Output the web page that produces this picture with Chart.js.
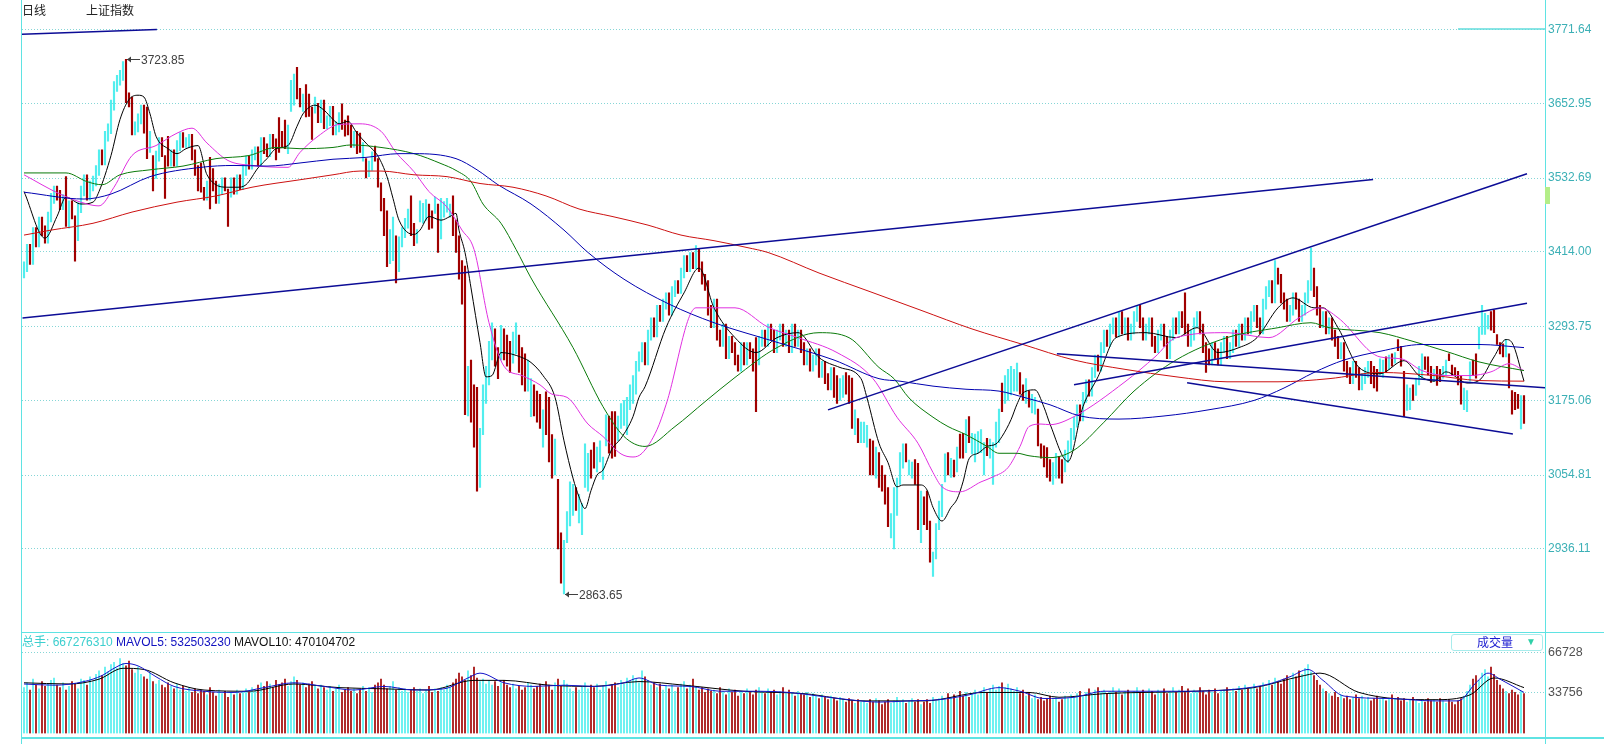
<!DOCTYPE html>
<html>
<head>
<meta charset="utf-8">
<script src="https://cdn.jsdelivr.net/npm/chart.js@4.4.0/dist/chart.umd.min.js"></script>
<style>
  body { margin: 0; background: #fff; width: 1604px; height: 744px; overflow: hidden; position: relative; font-family: "Liberation Sans", Arial, sans-serif; }
  canvas { position: absolute; left: 0; }
  #price { top: 0; }
  #vol { top: 632px; }
  .t { position: absolute; font-size: 12px; line-height: 14px; white-space: nowrap; }
  .cjk { font-family: "Noto Sans CJK SC", sans-serif; }
  .ln { position: absolute; background: #5fe3e3; }
</style>
</head>
<body>
<canvas id="price" width="1604" height="632"></canvas>
<canvas id="vol" width="1604" height="112"></canvas>

<div class="ln" style="left:21px;top:0;width:1px;height:744px"></div>
<div class="ln" style="left:1545px;top:0;width:1px;height:744px"></div>
<div class="ln" style="left:21px;top:632px;width:1583px;height:1px"></div>
<div class="ln" style="left:21px;top:737px;width:1583px;height:2px"></div>
<div style="position:absolute;left:1545px;top:187px;width:5px;height:17px;background:#b4ee88"></div>

<div class="t cjk" style="left:22px;top:3px;color:#222">日线</div>
<div class="t cjk" style="left:86px;top:3px;color:#222">上证指数</div>
<div class="t" style="left:22px;top:634px"><span class="cjk" style="color:#3ccfcf">总手</span><span style="color:#3ccfcf">: 667276310</span> <span style="color:#1010c0">MAVOL5: 532503230</span> <span style="color:#111">MAVOL10: 470104702</span></div>
<div style="position:absolute;left:1451px;top:634px;width:90px;height:15px;border:1px solid #a8ecec;border-radius:3px"></div>
<div class="t cjk" style="left:1477px;top:635px;color:#1a1ad0">成交量</div>
<div class="t" style="left:1526px;top:635px;color:#2fd0a8;font-size:10px">▼</div>

<script>
// candle highs / lows, one per trading day
const highs = [
3398,3426,3426,3453,3453,3470,3470,3456,3478,3508,
3520,3520,3513,3506,3535,3496,3496,3472,3493,3520,
3538,3538,3528,3536,3553,3578,3578,3608,3620,3658,
3688,3698,3706,3720,3723.85,3670,3663,3623,3636,3650,
3650,3647,3608,3569,3576,3598,3598,3569,3600,3578,
3578,3593,3606,3606,3598,3603,3603,3578,3553,3557,
3518,3528,3566,3548,3528,3523,3533,3533,3515,3533,
3533,3538,3538,3553,3568,3568,3578,3583,3583,3598,
3598,3588,3603,3603,3596,3630,3608,3626,3618,3690,
3700,3711,3677,3668,3683,3668,3647,3663,3653,3658,
3658,3633,3648,3648,3623,3638,3652,3626,3633,3618,
3608,3608,3605,3590,3564,3560,3575,3584,3564,3525,
3500,3480,3450,3470,3440,3438,3453,3468,3483,3504,
3460,3450,3496,3492,3498,3491,3480,3502,3491,3500,
3495,3500,3491,3504,3465,3440,3400,3391,3230,3240,
3200,3196,3130,3200,3230,3270,3300,3290,3260,3296,
3290,3280,3270,3285,3300,3280,3260,3250,3240,3210,
3200,3190,3185,3160,3189,3180,3120,3113,3048,2962,
2950,2996,3044,3040,3035,3024,3009,3105,3090,3095,
3107,3100,3110,3084,3152,3150,3157,3157,3150,3170,
3175,3180,3200,3215,3238,3253,3268,3268,3288,3308,
3308,3328,3328,3338,3348,3348,3358,3368,3368,3388,
3408,3408,3413,3413,3424,3418,3398,3378,3368,3328,
3338,3338,3288,3298,3298,3278,3278,3268,3248,3268,
3268,3268,3268,3258,3276,3278,3288,3288,3298,3298,
3288,3288,3298,3298,3288,3288,3298,3298,3288,3288,
3268,3258,3258,3248,3258,3258,3238,3238,3218,3228,
3228,3215,3210,3215,3220,3215,3211,3160,3146,3140,
3140,3135,3113,3110,3100,3091,3070,3055,3035,2993,
3035,3050,3091,3105,3105,3079,3076,3080,3074,3029,
3020,3029,2981,2931,2977,3013,3040,3089,3091,3082,
3079,3100,3121,3122,3144,3149,3122,3121,3125,3128,
3107,3114,3113,3107,3140,3161,3203,3215,3225,3230,
3225,3235,3220,3200,3210,3190,3185,3180,3161,3105,
3102,3099,3080,3075,3090,3085,3080,3095,3110,3130,
3148,3168,3168,3188,3208,3208,3228,3248,3248,3268,
3288,3288,3298,3308,3308,3318,3318,3308,3308,3298,
3318,3328,3328,3308,3298,3308,3308,3278,3288,3298,
3298,3278,3288,3308,3308,3318,3318,3348,3298,3288,
3308,3318,3318,3298,3268,3258,3268,3268,3258,3268,
3278,3278,3268,3288,3288,3298,3298,3308,3308,3318,
3328,3328,3308,3338,3358,3368,3368,3400,3388,3378,
3348,3338,3328,3348,3348,3338,3328,3348,3368,3420,
3388,3358,3328,3318,3318,3308,3308,3288,3278,3268,
3268,3238,3228,3238,3238,3228,3218,3228,3238,3238,
3230,3225,3242,3240,3245,3248,3250,3252,3273,3262,
3222,3200,3195,3200,3211,3230,3250,3245,3245,3230,
3225,3230,3225,3230,3240,3250,3232,3228,3222,3214,
3195,3191,3237,3240,3250,3293,3328,3315,3312,3318,
3320,3281,3268,3266,3273,3250,3191,3188,3185,3183,
3183];
const lows = [
3372,3382,3394,3394,3422,3422,3440,3428,3428,3462,
3492,3497,3482,3482,3455,3452,3467,3399,3432,3477,
3504,3497,3497,3512,3520,3537,3554,3554,3592,3604,
3642,3672,3682,3690,3654,3647,3602,3602,3607,3620,
3605,3564,3574,3512,3532,3560,3567,3500,3552,3552,
3552,3552,3577,3582,3582,3582,3562,3537,3512,3510,
3497,3497,3483,3512,3492,3492,3507,3512,3455,3502,
3507,3507,3514,3514,3537,3547,3547,3562,3552,3552,
3572,3567,3567,3580,3562,3574,3582,3580,3572,3640,
3650,3660,3647,3640,3631,3632,3595,3637,3622,3622,
3612,3612,3617,3602,3602,3607,3611,3600,3602,3582,
3582,3572,3574,3560,3533,3535,3545,3560,3518,3480,
3440,3390,3395,3400,3364,3382,3422,3437,3452,3440,
3424,3428,3462,3460,3465,3450,3452,3476,3413,3435,
3470,3478,3470,3440,3413,3370,3330,3152,3150,3140,
3100,3029,3035,3120,3170,3200,3240,3230,3210,3240,
3240,3230,3220,3235,3250,3220,3200,3190,3190,3149,
3150,3140,3130,3100,3120,3076,3050,3055,2936,2881,
2863.65,2946,2973,2990,2998,2978,2959,3035,3029,3050,
3066,3060,3076,3048,3102,3090,3082,3085,3110,3130,
3135,3120,3160,3170,3185,3222,3237,3232,3232,3272,
3277,3277,3302,3302,3322,3312,3312,3342,3347,3347,
3372,3382,3382,3387,3387,3382,3362,3352,3312,3292,
3292,3272,3262,3262,3242,3242,3252,3232,3222,3222,
3232,3232,3242,3222,3157,3232,3262,3262,3262,3272,
3252,3252,3272,3262,3262,3252,3252,3262,3262,3252,
3232,3232,3222,3222,3232,3212,3212,3202,3192,3192,
3180,3170,3175,3180,3185,3170,3130,3120,3107,3107,
3107,3100,3055,3055,3050,3035,3029,3008,2972,2954,
2936,2990,3040,3066,3076,3055,3050,3040,2967,2946,
2975,2967,2915,2892,2920,2967,2988,3044,3055,3051,
3052,3060,3082,3082,3091,3107,3089,3076,3090,3091,
3055,3086,3082,3040,3100,3107,3157,3170,3175,3184,
3190,3190,3185,3175,3170,3164,3155,3153,3102,3082,
3068,3051,3045,3040,3050,3050,3042,3060,3075,3095,
3112,3132,3142,3142,3172,3182,3182,3212,3222,3222,
3252,3262,3262,3282,3277,3277,3282,3282,3272,3272,
3282,3302,3292,3272,3272,3282,3262,3252,3252,3272,
3262,3242,3242,3272,3282,3282,3292,3282,3262,3262,
3272,3292,3282,3252,3220,3232,3232,3242,3232,3232,
3252,3242,3242,3252,3262,3262,3272,3272,3282,3282,
3302,3292,3282,3282,3322,3342,3332,3332,3362,3332,
3322,3302,3302,3312,3322,3302,3302,3312,3332,3352,
3342,3312,3292,3292,3282,3282,3272,3262,3242,3242,
3222,3212,3202,3202,3212,3192,3192,3202,3212,3202,
3195,3190,3216,3212,3220,3225,3230,3235,3255,3230,
3149,3159,3160,3175,3183,3200,3211,3225,3216,3204,
3205,3199,3205,3211,3216,3239,3215,3215,3200,3169,
3160,3157,3206,3215,3211,3258,3281,3281,3290,3288,
3284,3265,3250,3245,3245,3195,3153,3160,3162,3129,
3138];
// 1 = up day (cyan), 0 = down day (dark red)
const ups = [
1,1,0,1,0,1,0,0,1,1, 1,0,0,1,0,1,0,0,1,1, 1,0,1,1,1,1,0,1,1,1, 1,1,1,1,0,0,0,1,1,1,
0,0,1,0,1,1,0,0,0,1, 0,1,1,0,1,1,0,0,0,0, 0,1,0,0,0,1,1,0,0,1, 0,1,0,1,1,0,1,1,0,1,
0,0,1,0,0,0,0,0,1,1, 1,0,0,1,0,0,0,1,0,1, 0,1,1,0,1,1,0,0,0,0, 1,0,0,1,0,1,1,0,0,0,
0,0,1,1,0,1,1,1,1,0, 0,1,1,1,1,0,0,1,0,1, 1,1,1,0,0,0,0,0,1,0, 0,0,1,1,1,1,1,0,0,1,
0,0,0,1,1,0,0,0,1,1, 0,0,0,1,0,0,0,1,0,0, 1,1,1,1,0,1,1,1,1,0, 0,1,1,1,1,0,0,0,1,1,
1,1,1,1,1,1,1,0,1,1, 0,1,0,1,1,0,1,1,0,1, 1,0,1,0,1,0,0,0,0,0, 1,0,0,1,0,1,0,0,0,1,
0,1,0,0,0,1,1,0,1,0, 0,1,1,0,1,0,1,0,1,0, 0,1,0,1,1,0,1,0,0,1, 0,0,1,1,0,0,0,1,0,1,
1,1,0,0,1,0,0,0,0,1, 1,1,1,1,0,1,1,0,0,1, 0,0,0,1,1,1,1,1,0,1, 0,1,0,0,1,0,1,1,1,1,
1,0,1,1,1,1,0,1,1,1, 1,1,0,0,1,0,1,1,0,0, 0,0,0,1,1,0,0,1,1,1, 1,1,0,1,1,0,1,1,0,1,
1,0,1,1,0,1,0,1,0,1, 1,1,0,0,1,1,0,0,1,1, 0,0,1,1,0,1,0,0,0,1, 1,1,0,0,0,0,1,0,0,1,
1,0,1,1,0,1,0,1,0,1, 1,0,0,1,1,1,0,1,0,0, 0,0,1,1,0,0,1,1,1,1, 0,0,0,1,0,1,0,0,0,1,
0,0,0,1,0,0,1,1,1,0, 0,0,1,1,0,1,0,1,0,0, 0,1,1,0,1,1,1,0,0,0, 1,0,0,1,1,0,0,0,0,0,
1,1,1,0,0,1,1,1,1,0, 0,0,0,0,1,0,0,0,0,1, 0];
// volume (成交量), same days
const volumes = [
38000,42000,36000,45000,40000,37000,43000,39000,41000,44000,
46000,40000,38000,42000,36000,39000,43000,41000,37000,45000,
44000,40000,47000,43000,49000,52000,48000,55000,51000,57000,
59000,54000,62000,58000,56000,60000,53000,50000,55000,49000,
47000,45000,50000,43000,41000,44000,40000,38000,42000,39000,
37000,41000,36000,39000,35000,38000,34000,37000,33000,36000,
35000,32000,38000,34000,31000,36000,33000,35000,30000,34000,
32000,36000,33000,35000,37000,34000,38000,36000,40000,42000,
39000,43000,41000,38000,44000,40000,42000,45000,39000,43000,
47000,44000,40000,42000,38000,41000,43000,39000,37000,40000,
38000,36000,39000,35000,37000,40000,34000,36000,38000,35000,
37000,33000,36000,39000,35000,38000,34000,40000,42000,45000,
40000,37000,39000,43000,36000,38000,35000,37000,34000,36000,
38000,35000,37000,33000,36000,39000,34000,37000,35000,38000,
36000,40000,38000,42000,45000,50000,47000,44000,52000,48000,
55000,46000,43000,45000,41000,44000,40000,43000,39000,42000,
44000,40000,38000,41000,37000,39000,36000,38000,42000,40000,
37000,39000,41000,38000,43000,40000,36000,42000,45000,39000,
44000,41000,37000,35000,38000,36000,39000,42000,37000,40000,
38000,41000,36000,39000,43000,37000,40000,42000,38000,44000,
41000,46000,43000,48000,45000,42000,52000,47000,44000,40000,
42000,38000,41000,36000,39000,37000,40000,35000,38000,41000,
43000,37000,40000,45000,39000,36000,38000,34000,37000,35000,
36000,33000,38000,35000,32000,37000,34000,36000,31000,35000,
33000,37000,34000,32000,36000,38000,35000,33000,37000,34000,
36000,32000,35000,38000,33000,36000,34000,31000,35000,33000,
32000,34000,30000,33000,31000,29000,32000,30000,28000,31000,
29000,27000,30000,28000,26000,29000,27000,25000,28000,26000,
27000,25000,28000,26000,29000,27000,24000,26000,28000,25000,
27000,30000,26000,28000,25000,27000,29000,26000,28000,24000,
26000,28000,25000,30000,27000,29000,31000,28000,33000,30000,
32000,29000,35000,31000,34000,30000,33000,36000,32000,35000,
38000,34000,37000,40000,36000,39000,42000,38000,41000,37000,
35000,38000,33000,36000,31000,34000,29000,32000,28000,30000,
27000,29000,31000,28000,30000,26000,28000,31000,29000,32000,
30000,33000,35000,31000,34000,37000,33000,36000,38000,34000,
36000,33000,35000,38000,34000,37000,32000,35000,36000,33000,
35000,38000,34000,36000,33000,37000,35000,32000,36000,34000,
37000,33000,35000,38000,34000,36000,39000,35000,37000,33000,
36000,34000,38000,35000,32000,36000,34000,37000,33000,35000,
36000,38000,34000,37000,35000,39000,36000,40000,37000,38000,
41000,37000,39000,42000,38000,44000,40000,46000,43000,41000,
45000,48000,44000,50000,47000,52000,49000,54000,57000,51000,
48000,44000,40000,37000,35000,33000,31000,34000,30000,32000,
29000,31000,28000,30000,32000,29000,31000,28000,30000,27000,
29000,31000,28000,30000,27000,29000,32000,28000,30000,27000,
29000,26000,28000,30000,27000,25000,28000,26000,29000,27000,
28000,26000,29000,27000,25000,28000,26000,24000,27000,29000,
31000,35000,40000,45000,48000,44000,50000,53000,47000,55000,
49000,44000,40000,37000,35000,33000,36000,34000,32000,35000,
33000];

// moving-average lines as [day, value]
const ma5 = [[0,3511],[7,3436],[11,3471],[14,3502],[19,3491],[23,3494],[25,3511],[29,3569],[32,3627],[35,3659],[38,3666],[40,3663],[42,3636],[44,3600],[48,3580],[51,3572],[54,3580],[58,3585],[61,3538],[68,3518],[71,3518],[74,3522],[78,3549],[81,3564],[84,3580],[88,3585],[91,3616],[93,3636],[97,3650],[100,3642],[103,3627],[105,3620],[108,3624],[111,3605],[114,3589],[118,3568],[121,3535],[123,3500],[125,3465],[130,3442],[132,3449],[135,3471],[139,3465],[142,3471],[144,3476],[145,3449],[147,3413],[149,3356],[152,3268],[154,3213],[156,3215],[159,3252],[166,3244],[169,3236],[173,3215],[177,3180],[180,3110],[183,3050],[185,3020],[187,3001],[189,3030],[191,3055],[193,3063],[196,3097],[199,3114],[203,3149],[205,3180],[207,3197],[214,3292],[220,3348],[225,3388],[230,3324],[237,3276],[244,3252],[251,3276],[258,3284],[265,3244],[272,3228],[279,3210],[281,3179],[285,3106],[288,3075],[291,3036],[293,3039],[299,3039],[301,3031],[303,3003],[306,2981],[309,3003],[311,3016],[313,3044],[315,3081],[318,3090],[321,3101],[324,3105],[326,3117],[329,3144],[331,3169],[333,3187],[337,3192],[340,3164],[342,3137],[348,3077],[353,3165],[358,3213],[364,3276],[374,3284],[384,3276],[391,3292],[398,3252],[405,3260],[411,3276],[418,3324],[423,3340],[430,3324],[433,3324],[438,3292],[445,3228],[452,3218],[460,3239],[465,3215],[470,3206],[474,3221],[481,3203],[485,3207],[490,3245],[494,3273],[496,3268],[500,3206]];
const ma10 = [[0,3538],[12,3507],[21,3491],[25,3488],[30,3518],[36,3569],[44,3585],[51,3605],[56,3613],[61,3589],[68,3561],[76,3553],[88,3550],[92,3574],[98,3600],[105,3619],[112,3620],[119,3608],[124,3574],[130,3543],[135,3511],[141,3486],[146,3449],[150,3418],[155,3300],[160,3230],[166,3215],[172,3200],[176,3185],[181,3180],[188,3137],[193,3117],[199,3089],[203,3084],[206,3090],[211,3128],[214,3168],[224,3324],[237,3324],[248,3293],[258,3276],[271,3252],[283,3210],[291,3148],[298,3106],[303,3059],[306,3036],[312,3028],[319,3044],[323,3052],[328,3067],[332,3101],[335,3133],[339,3137],[342,3136],[350,3149],[367,3205],[377,3245],[384,3276],[401,3284],[415,3276],[425,3308],[432,3324],[438,3308],[452,3245],[459,3242],[466,3223],[474,3215],[482,3215],[489,3221],[495,3234],[500,3223]];
const ma20 = [[0,3541],[14,3541],[21,3527],[26,3522],[32,3538],[42,3546],[53,3552],[64,3564],[75,3569],[84,3582],[92,3580],[103,3582],[109,3586],[119,3582],[130,3572],[139,3556],[144,3545],[149,3527],[153,3491],[159,3460],[164,3418],[169,3372],[183,3260],[193,3165],[200,3117],[207,3101],[217,3133],[227,3173],[237,3212],[251,3260],[265,3284],[275,3276],[285,3228],[290,3210],[295,3179],[303,3148],[308,3133],[314,3120],[321,3101],[325,3090],[331,3090],[335,3086],[342,3083],[350,3095],[360,3140],[370,3190],[384,3240],[401,3276],[418,3292],[429,3300],[435,3292],[452,3284],[463,3270],[474,3254],[485,3237],[500,3223]];
const ma60 = [[0,3510],[20,3499],[29,3507],[42,3535],[59,3550],[70,3553],[81,3552],[92,3557],[103,3563],[114,3566],[125,3572],[130,3572],[144,3564],[151,3546],[158,3522],[169,3491],[180,3449],[188,3413],[200,3370],[215,3330],[230,3300],[250,3270],[270,3240],[285,3210],[292,3206],[303,3198],[314,3193],[325,3190],[334,3179],[342,3168],[352,3150],[365,3145],[380,3150],[395,3160],[410,3175],[420,3195],[430,3220],[440,3240],[452,3254],[466,3265],[485,3265],[500,3260]];
const ma250 = [[0,3441],[9,3449],[23,3460],[36,3478],[51,3494],[64,3504],[76,3518],[92,3530],[103,3538],[112,3544],[119,3544],[130,3538],[141,3535],[152,3524],[163,3518],[174,3504],[185,3483],[196,3471],[208,3457],[219,3441],[230,3432],[241,3421],[248,3413],[265,3380],[282,3350],[299,3320],[316,3290],[333,3265],[350,3240],[367,3225],[384,3213],[401,3205],[418,3205],[435,3210],[452,3220],[470,3215],[485,3207],[500,3206]];
const mavol5 = [[0,41000],[10,40000],[20,43000],[26,48000],[30,54000],[34,58000],[38,56000],[44,47000],[50,39000],[60,35000],[70,34000],[80,38000],[90,42000],[100,39000],[110,36000],[120,39000],[130,36000],[140,37000],[148,46000],[152,50000],[160,42000],[170,39000],[180,40000],[190,39000],[200,42000],[205,46000],[212,40000],[222,39000],[232,35000],[245,35000],[255,34000],[265,31000],[275,28000],[285,26000],[295,27000],[305,28000],[315,32000],[325,38000],[332,35000],[340,29000],[350,30000],[360,35000],[375,35000],[390,35000],[405,37000],[415,41000],[422,47000],[428,53000],[433,44000],[440,31000],[455,29000],[470,27000],[478,27000],[484,42000],[488,50000],[492,45000],[500,34000]];
const mavol10 = [[0,42000],[15,41000],[25,45000],[33,54000],[40,53000],[50,42000],[60,36000],[75,35000],[90,41000],[105,38000],[120,37000],[135,36000],[150,44000],[160,44000],[175,40000],[190,39000],[205,43000],[220,40000],[240,35000],[260,33000],[280,27000],[300,27000],[320,34000],[335,34000],[345,30000],[360,33000],[390,35000],[410,38000],[425,47000],[432,50000],[445,34000],[470,28000],[482,32000],[490,46000],[500,38000]];

// hand-drawn trend lines: [[day, value], [day, value]]
const trendLines = [
  [[-0.67, 3763.9], [44.3, 3771.6]],
  [[-0.5, 3307.7], [449.7, 3530.3]],
  [[268, 3159.8], [501, 3539.7]],
  [[350, 3200.3], [501, 3331.5]],
  [[344.3, 3250.1], [507, 3195.6]],
  [[387.7, 3203.4], [496.3, 3120.9]]
];
const topMarker = [[478, 3772.5], [507, 3772.5]];

const priceTicks = [2936.11, 3054.81, 3175.06, 3293.75, 3414.00, 3532.69, 3652.95, 3771.64];
const volTicks = [33756, 66728];
const peakIdx = 34, lowIdx = 180;

const UP = '#52eeee', DOWN = '#a00000';
const GRID = '#86d6d6';
const xScale = { type: 'linear', min: -0.667, max: 507, display: false, offset: false };
const pts = arr => arr.map(([x, y]) => ({ x, y }));
const maLine = (data, color) => ({
  type: 'line', data: pts(data), borderColor: color, borderWidth: 1,
  pointRadius: 0, cubicInterpolationMode: 'monotone', order: 5
});

const marks = {
  id: 'marks',
  afterDatasetsDraw(chart) {
    const { ctx, scales: { x, y } } = chart;
    ctx.save();
    ctx.font = '12px "Liberation Sans", Arial, sans-serif';
    ctx.fillStyle = '#404040';
    ctx.strokeStyle = '#404040';
    ctx.lineWidth = 1;
    ctx.textBaseline = 'middle';
    [[peakIdx, highs[peakIdx]], [lowIdx, lows[lowIdx]]].forEach(([i, v]) => {
      const px = Math.round(x.getPixelForValue(i)) + 1;
      const py = Math.round(y.getPixelForValue(v)) + 0.5;
      ctx.beginPath(); ctx.moveTo(px, py); ctx.lineTo(px + 13, py); ctx.stroke();
      ctx.beginPath(); ctx.moveTo(px, py); ctx.lineTo(px + 4, py - 3); ctx.lineTo(px + 4, py + 3); ctx.closePath(); ctx.fill();
      ctx.fillText(v.toFixed(2), px + 14, py + 1);
    });
    ctx.restore();
  }
};

new Chart(document.getElementById('price'), {
  data: {
    datasets: [
      {
        type: 'bar',
        data: highs.map((h, i) => ({ x: i, y: [lows[i], h] })),
        backgroundColor: ups.map(u => u ? UP : DOWN),
        barThickness: 1.5, borderWidth: 0, order: 10
      },
      maLine(ma250, '#cc1111'),
      maLine(ma60, '#0000b0'),
      maLine(ma20, '#0a7a0a'),
      maLine(ma10, '#e030e0'),
      maLine(ma5, '#000000'),
      ...trendLines.map(seg => ({
        type: 'line', data: pts(seg), borderColor: '#0c0c96', borderWidth: 1.5,
        pointRadius: 0, tension: 0, order: 1
      })),
      { type: 'line', data: pts(topMarker), borderColor: '#62dcdc', borderWidth: 1.5, pointRadius: 0, order: 1 }
    ]
  },
  options: {
    responsive: false, animation: false, devicePixelRatio: 1,
    layout: { padding: { left: 22, right: 0, top: 0, bottom: 0 }, autoPadding: false },
    plugins: { legend: { display: false }, tooltip: { enabled: false } },
    scales: {
      x: xScale,
      y: {
        position: 'right', min: 2818.88, max: 3802.78,
        afterBuildTicks: s => { s.ticks = priceTicks.map(v => ({ value: v })); },
        afterFit: s => { s.width = 59; },
        ticks: { color: '#3cb0b6', padding: 3, font: { size: 12, family: '"Liberation Sans", Arial' }, callback: v => v.toFixed(2) },
        grid: { color: GRID, lineWidth: 1, drawTicks: false },
        border: { display: false, dash: [1, 2] }
      }
    }
  },
  plugins: [marks]
});

new Chart(document.getElementById('vol'), {
  data: {
    datasets: [
      {
        type: 'bar',
        data: volumes.map((v, i) => ({ x: i, y: v })),
        backgroundColor: ups.map(u => u ? UP : DOWN),
        barThickness: 1, borderWidth: 0, order: 10
      },
      { type: 'line', data: pts(mavol10), borderColor: '#000000', borderWidth: 1, pointRadius: 0, cubicInterpolationMode: 'monotone', order: 2 },
      { type: 'line', data: pts(mavol5), borderColor: '#1414c8', borderWidth: 1, pointRadius: 0, cubicInterpolationMode: 'monotone', order: 1 }
    ]
  },
  options: {
    responsive: false, animation: false, devicePixelRatio: 1,
    layout: { padding: { left: 22, right: 0, top: 10, bottom: 6 }, autoPadding: false },
    plugins: { legend: { display: false }, tooltip: { enabled: false } },
    scales: {
      x: xScale,
      y: {
        position: 'right', min: 0, max: 75363,
        afterBuildTicks: s => { s.ticks = volTicks.map(v => ({ value: v })); },
        afterFit: s => { s.width = 59; },
        ticks: { color: '#505050', padding: 3, font: { size: 12.5, family: '"Liberation Sans", Arial' }, callback: v => String(v) },
        grid: { color: GRID, lineWidth: 1, drawTicks: false },
        border: { display: false, dash: [1, 2] }
      }
    }
  }
});
</script>
</body>
</html>
